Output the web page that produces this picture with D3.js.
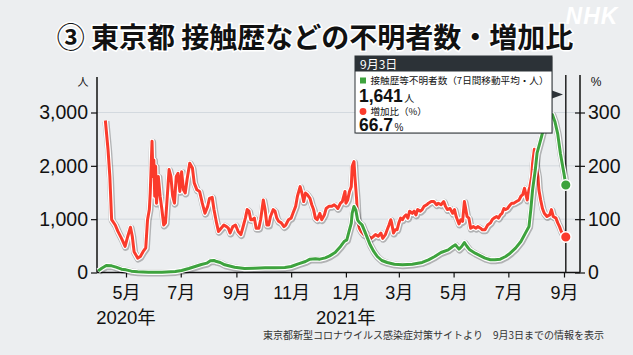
<!DOCTYPE html>
<html><head><meta charset="utf-8">
<script src="https://cdn.jsdelivr.net/npm/d3@7"></script>
<style>
html,body{margin:0;padding:0;background:#eceef0;}
svg{display:block;}
</style></head><body>
<svg id="c" width="633" height="355"></svg>
<script>
// ---------- data ----------
const titleText = "③ 東京都 接触歴などの不明者数・増加比";
const sourceText = "東京都新型コロナウイルス感染症対策サイトより　9月3日までの情報を表示";
const leftTicks = [0, 1000, 2000, 3000];
const rightTicks = [0, 100, 200, 300];
const monthTickDates = ["2020-05-01","2020-07-01","2020-09-01","2020-11-01","2021-01-01","2021-03-01","2021-05-01","2021-07-01","2021-09-01"];
const monthTickLabels = ["5月","7月","9月","11月","1月","3月","5月","7月","9月"];
const yearDates = ["2020-05-01","2021-01-01"];
const yearLabels = ["2020年","2021年"];
const tipDate = "2021-09-03";
const tipHeader = "9月3日";
const tipLabel1 = "接触歴等不明者数（7日間移動平均・人）";
const tipValue1 = 1641;
const tipLabel2 = "増加比（%）";
const tipValue2 = 66.7;

// unknown-contact persons, 7-day average (left axis, 人)
const unknownSeries = [
["2020-03-31",30],["2020-04-04",80],["2020-04-09",130],["2020-04-15",125],["2020-04-20",100],["2020-04-26",62],
["2020-05-01",50],["2020-05-07",25],["2020-05-14",12],["2020-05-26",6],["2020-06-10",6],["2020-06-25",19],
["2020-07-02",38],["2020-07-10",75],["2020-07-17",112],["2020-07-24",150],["2020-07-30",175],["2020-08-03",219],
["2020-08-07",225],["2020-08-10",205],["2020-08-14",188],["2020-08-19",144],["2020-08-30",100],["2020-09-10",75],
["2020-09-21",81],["2020-10-03",88],["2020-10-14",88],["2020-10-25",94],["2020-11-01",112],["2020-11-09",162],
["2020-11-17",206],["2020-11-22",250],["2020-11-28",256],["2020-12-03",250],["2020-12-09",275],["2020-12-14",312],
["2020-12-20",375],["2020-12-26",488],["2020-12-30",580],["2021-01-02",612],["2021-01-04",738],["2021-01-07",925],
["2021-01-08",1112],["2021-01-10",1238],["2021-01-12",1175],["2021-01-14",988],["2021-01-16",938],["2021-01-19",894],
["2021-01-22",770],["2021-01-25",644],["2021-01-28",519],["2021-02-01",394],["2021-02-05",300],["2021-02-10",225],
["2021-02-16",188],["2021-02-24",156],["2021-03-05",144],["2021-03-16",156],["2021-03-27",188],["2021-04-03",238],
["2021-04-10",300],["2021-04-17",375],["2021-04-25",425],["2021-04-30",488],["2021-05-03",519],["2021-05-07",438],
["2021-05-10",488],["2021-05-13",562],["2021-05-16",488],["2021-05-19",425],["2021-05-25",362],["2021-05-31",312],
["2021-06-05",269],["2021-06-11",238],["2021-06-16",238],["2021-06-22",250],["2021-06-28",300],["2021-07-03",362],
["2021-07-09",456],["2021-07-15",581],["2021-07-20",738],["2021-07-24",862],["2021-07-26",1175],["2021-07-28",1550],
["2021-07-31",1925],["2021-08-02",2238],["2021-08-05",2425],["2021-08-07",2550],["2021-08-10",2750],["2021-08-13",2900],
["2021-08-16",2980],["2021-08-19",2960],["2021-08-22",2820],["2021-08-25",2600],["2021-08-28",2230],["2021-09-01",1850],
["2021-09-03",1641]
];

// increase ratio (right axis, %)
const ratioSeries = [
["2020-04-08",285],["2020-04-11",230],["2020-04-13",180],["2020-04-15",99],["2020-04-19",89],["2020-04-22",77],
["2020-04-26",64],["2020-04-30",49],["2020-05-03",68],["2020-05-06",85],["2020-05-08",68],["2020-05-10",39],
["2020-05-14",27],["2020-05-17",30],["2020-05-20",39],["2020-05-23",46],["2020-05-25",99],["2020-05-27",118],
["2020-05-28",149],["2020-05-30",246],["2020-05-31",180],["2020-06-01",211],["2020-06-02",143],["2020-06-03",199],
["2020-06-04",130],["2020-06-06",180],["2020-06-08",143],["2020-06-10",118],["2020-06-12",89],["2020-06-14",93],
["2020-06-16",143],["2020-06-18",193],["2020-06-20",180],["2020-06-22",143],["2020-06-24",130],["2020-06-26",180],
["2020-06-28",186],["2020-06-30",152],["2020-07-02",189],["2020-07-04",155],["2020-07-06",149],["2020-07-08",174],
["2020-07-11",205],["2020-07-14",196],["2020-07-16",168],["2020-07-19",155],["2020-07-22",152],["2020-07-25",130],
["2020-07-28",111],["2020-07-31",124],["2020-08-02",139],["2020-08-05",141],["2020-08-07",118],["2020-08-10",92],
["2020-08-12",77],["2020-08-15",83],["2020-08-18",89],["2020-08-21",86],["2020-08-23",83],["2020-08-25",74],
["2020-08-28",86],["2020-08-31",89],["2020-09-03",77],["2020-09-06",71],["2020-09-08",83],["2020-09-11",102],
["2020-09-13",118],["2020-09-15",115],["2020-09-17",99],["2020-09-19",99],["2020-09-21",102],["2020-09-23",83],
["2020-09-26",83],["2020-09-28",99],["2020-09-30",124],["2020-10-01",136],["2020-10-03",118],["2020-10-05",89],
["2020-10-07",89],["2020-10-09",105],["2020-10-12",118],["2020-10-14",115],["2020-10-16",102],["2020-10-18",96],
["2020-10-21",93],["2020-10-24",86],["2020-10-26",89],["2020-10-29",99],["2020-11-01",102],["2020-11-03",111],
["2020-11-06",124],["2020-11-08",143],["2020-11-11",161],["2020-11-13",149],["2020-11-15",133],["2020-11-17",149],
["2020-11-19",146],["2020-11-22",139],["2020-11-24",127],["2020-11-26",118],["2020-11-28",102],["2020-11-30",99],
["2020-12-03",111],["2020-12-05",99],["2020-12-08",108],["2020-12-10",120],["2020-12-13",124],["2020-12-16",124],
["2020-12-19",127],["2020-12-21",124],["2020-12-23",120],["2020-12-26",130],["2020-12-28",133],["2020-12-31",152],
["2021-01-01",130],["2021-01-03",136],["2021-01-05",152],["2021-01-07",161],["2021-01-08",199],["2021-01-10",208],
["2021-01-11",180],["2021-01-13",136],["2021-01-14",99],["2021-01-16",83],["2021-01-18",77],["2021-01-21",71],
["2021-01-23",74],["2021-01-26",68],["2021-01-29",64],["2021-02-01",68],["2021-02-03",71],["2021-02-06",68],
["2021-02-09",74],["2021-02-11",64],["2021-02-14",71],["2021-02-16",80],["2021-02-18",89],["2021-02-20",99],
["2021-02-21",93],["2021-02-23",74],["2021-02-25",80],["2021-02-27",80],["2021-03-01",93],["2021-03-03",102],
["2021-03-05",99],["2021-03-07",105],["2021-03-09",108],["2021-03-11",102],["2021-03-13",115],["2021-03-16",111],
["2021-03-18",115],["2021-03-20",108],["2021-03-22",118],["2021-03-25",115],["2021-03-27",118],["2021-03-29",124],
["2021-04-01",127],["2021-04-03",130],["2021-04-06",133],["2021-04-09",133],["2021-04-12",127],["2021-04-14",130],
["2021-04-17",127],["2021-04-20",133],["2021-04-22",124],["2021-04-24",118],["2021-04-27",120],["2021-04-30",111],
["2021-05-02",118],["2021-05-04",104],["2021-05-07",91],["2021-05-09",99],["2021-05-11",96],["2021-05-13",133],
["2021-05-14",124],["2021-05-16",105],["2021-05-18",102],["2021-05-20",83],["2021-05-23",86],["2021-05-26",83],
["2021-05-28",86],["2021-05-31",83],["2021-06-02",80],["2021-06-05",80],["2021-06-08",89],["2021-06-11",93],
["2021-06-13",99],["2021-06-15",102],["2021-06-18",105],["2021-06-20",102],["2021-06-22",108],["2021-06-24",111],
["2021-06-26",120],["2021-06-28",118],["2021-06-30",120],["2021-07-03",127],["2021-07-05",130],["2021-07-07",130],
["2021-07-10",133],["2021-07-13",136],["2021-07-15",143],["2021-07-17",146],["2021-07-19",158],["2021-07-21",143],
["2021-07-22",136],["2021-07-24",155],["2021-07-25",161],["2021-07-27",180],["2021-07-28",205],["2021-07-30",231],
["2021-07-31",220],["2021-08-01",199],["2021-08-03",180],["2021-08-04",155],["2021-08-06",136],["2021-08-08",120],
["2021-08-10",111],["2021-08-13",105],["2021-08-16",108],["2021-08-18",118],["2021-08-20",105],["2021-08-23",102],
["2021-08-25",93],["2021-08-27",86],["2021-08-29",77],["2021-09-01",68],["2021-09-03",66.7]
];

// ---------- layout ----------
const L = 97, R = 580, T = 75, B = 272.5;
const FONT = "'Liberation Sans', Arial, 'Noto Sans CJK JP', sans-serif";
const JFONT = "'Noto Sans CJK JP', sans-serif";
const parse = d3.timeParse("%Y-%m-%d");
const svg = d3.select("#c");

svg.append("rect").attr("width",633).attr("height",355).attr("fill","#eceef0");

const x0 = d3.scaleTime().domain([parse("2020-05-01"), parse("2021-09-01")]).range([126, 564]);
const x = d3.scaleTime().domain([x0.invert(L), x0.invert(R)]).range([L, R]);
const yL = d3.scaleLinear().domain([0, 3000]).range([B, 112.5]);
const yR = d3.scaleLinear().domain([0, 300]).range([B, 112.5]);

// grid
svg.append("g").selectAll("line").data(leftTicks.slice(1)).join("line")
  .attr("x1", L).attr("x2", R).attr("y1", d => yL(d)).attr("y2", d => yL(d))
  .attr("stroke", "#d3d9df").attr("stroke-width", 1);

// title
svg.append("text").attr("x", 315).attr("y", 47.5).attr("text-anchor","middle")
  .attr("font-family", JFONT).attr("font-weight", 700).attr("font-size", 28)
  .attr("fill", "#111").attr("stroke","#fff").attr("stroke-width",3).attr("paint-order","stroke")
  .text(titleText);

// NHK logo
svg.append("text").attr("x", 592).attr("y", 24).attr("text-anchor","middle")
  .attr("font-family", "'Liberation Sans', Arial, sans-serif").attr("font-weight", 700)
  .attr("font-style","italic").attr("font-size", 23).attr("fill","#fff").attr("letter-spacing",1)
  .text("NHK");

// axes
const gl = svg.append("g").attr("transform", `translate(${L},0)`)
  .call(d3.axisLeft(yL).tickValues(leftTicks).tickFormat(d3.format(",")).tickSize(6).tickPadding(3));
gl.select(".domain").remove();
gl.selectAll("text").attr("font-family", FONT).attr("font-size", 19.5).attr("fill","#111");
gl.selectAll("line").attr("stroke","#111").attr("stroke-width",1.2);

const gr = svg.append("g").attr("transform", `translate(${R},0)`)
  .call(d3.axisRight(yR).tickValues(rightTicks).tickSize(5).tickPadding(3));
gr.select(".domain").remove();
gr.selectAll("line").attr("stroke","#111").attr("stroke-width",1.2).attr("x1",-5);
gr.selectAll("text").attr("font-family", FONT).attr("font-size", 19.5).attr("fill","#111");

const gx = svg.append("g").attr("transform", `translate(0,${B})`)
  .call(d3.axisBottom(x).tickValues(monthTickDates.map(parse))
    .tickFormat((d,i) => monthTickLabels[i]).tickSize(5).tickPadding(9));
gx.select(".domain").remove();
gx.selectAll("line").attr("stroke","#111").attr("stroke-width",1.2);
gx.selectAll("text").attr("font-family", FONT).attr("font-size", 18).attr("fill","#111");

svg.append("g").selectAll("text").data(yearDates).join("text")
  .attr("x", d => x(parse(d))).attr("y", 324).attr("text-anchor","middle")
  .attr("font-family", FONT).attr("font-size", 18.5).attr("fill","#111")
  .text((d,i) => yearLabels[i]);

// axis lines
svg.append("line").attr("x1",L).attr("x2",L).attr("y1",77).attr("y2",B).attr("stroke","#111").attr("stroke-width",1.5);
svg.append("line").attr("x1",R).attr("x2",R).attr("y1",T).attr("y2",B).attr("stroke","#111").attr("stroke-width",1.5);
svg.append("line").attr("x1",L).attr("x2",R).attr("y1",B).attr("y2",B).attr("stroke","#111").attr("stroke-width",1.5);

// unit labels
svg.append("text").attr("x",83).attr("y",86).attr("text-anchor","middle")
  .attr("font-family", JFONT).attr("font-size",11).attr("fill","#111").text("人");
svg.append("text").attr("x",596).attr("y",86).attr("text-anchor","middle")
  .attr("font-family", FONT).attr("font-size",12).attr("fill","#111").text("%");

// source
svg.append("text").attr("x",604).attr("y",339).attr("text-anchor","end")
  .attr("font-family", JFONT).attr("font-size",10).attr("fill","#333").text(sourceText);

// vertical marker line
const xt = x(parse(tipDate));
svg.append("line").attr("x1",xt).attr("x2",xt).attr("y1",T).attr("y2",B)
  .attr("stroke","#222").attr("stroke-width",1.5);

// lines
function drawSeries(data, yScale, color) {
  const line = d3.line().x(d => x(parse(d[0]))).y(d => yScale(d[1]));
  const g = svg.append("g");
  g.append("path").attr("d", line(data)).attr("fill","none")
    .attr("stroke","rgba(0,0,0,0.25)").attr("stroke-width",7).attr("stroke-linejoin","round")
    .attr("transform","translate(0.6,0.9)");
  g.append("path").attr("d", line(data)).attr("fill","none")
    .attr("stroke","#fff").attr("stroke-width",5.4).attr("stroke-linejoin","round");
  g.append("path").attr("d", line(data)).attr("fill","none")
    .attr("stroke",color).attr("stroke-width",3).attr("stroke-linejoin","round");
}
const RED = "#fa3b2c", GREEN = "#3ea33e";
drawSeries(ratioSeries, yR, RED);
drawSeries(unknownSeries, yL, GREEN);

// end dots
const lastU = unknownSeries[unknownSeries.length-1], lastR = ratioSeries[ratioSeries.length-1];
svg.append("circle").attr("cx", x(parse(lastU[0]))).attr("cy", yL(lastU[1])).attr("r",5.3)
  .attr("fill",GREEN).attr("stroke","#fff").attr("stroke-width",1.5);
svg.append("circle").attr("cx", x(parse(lastR[0]))).attr("cy", yR(lastR[1])).attr("r",5.3)
  .attr("fill",RED).attr("stroke","#fff").attr("stroke-width",1.5);

// tooltip
const tip = svg.append("g");
const TX = 355, TY = 56, TW = 197;
tip.append("rect").attr("x",TX+1).attr("y",TY+1).attr("width",TW).attr("height",77)
  .attr("fill","rgba(0,0,0,0.18)");
tip.append("rect").attr("x",TX).attr("y",TY).attr("width",TW).attr("height",77)
  .attr("fill","#fff").attr("stroke","#2c3237").attr("stroke-width",1);
tip.append("rect").attr("x",TX).attr("y",TY).attr("width",TW).attr("height",15.5).attr("fill","#2c3237");
tip.append("path").attr("d",`M${TX+TW},90.5 L${TX+TW+11},94.5 L${TX+TW},98.5 Z`).attr("fill","#2c3237");
tip.append("text").attr("x",360).attr("y",69).attr("font-family",JFONT).attr("font-size",12)
  .attr("fill","#fff").text(tipHeader);
tip.append("rect").attr("x",360).attr("y",77.5).attr("width",6).attr("height",6).attr("fill",GREEN);
tip.append("text").attr("x",370.5).attr("y",83.5).attr("font-family",JFONT).attr("font-size",9.6)
  .attr("fill","#111").text(tipLabel1);
const v1 = tip.append("text").attr("x",359).attr("y",101.5).attr("font-family",FONT).attr("fill","#111");
v1.append("tspan").attr("font-size",17.5).attr("font-weight",700).text(d3.format(",")(tipValue1));
v1.append("tspan").attr("font-size",10).attr("font-family",JFONT).attr("dx",1.5).text("人");
tip.append("circle").attr("cx",363).attr("cy",111.5).attr("r",3.4).attr("fill",RED);
tip.append("text").attr("x",370.5).attr("y",115).attr("font-family",JFONT).attr("font-size",9.5)
  .attr("fill","#111").text(tipLabel2);
const v2 = tip.append("text").attr("x",359).attr("y",131).attr("font-family",FONT).attr("fill","#111");
v2.append("tspan").attr("font-size",17.5).attr("font-weight",700).text(d3.format(".1f")(tipValue2));
v2.append("tspan").attr("font-size",10).attr("dx",1.5).text("%");
</script>
</body></html>
